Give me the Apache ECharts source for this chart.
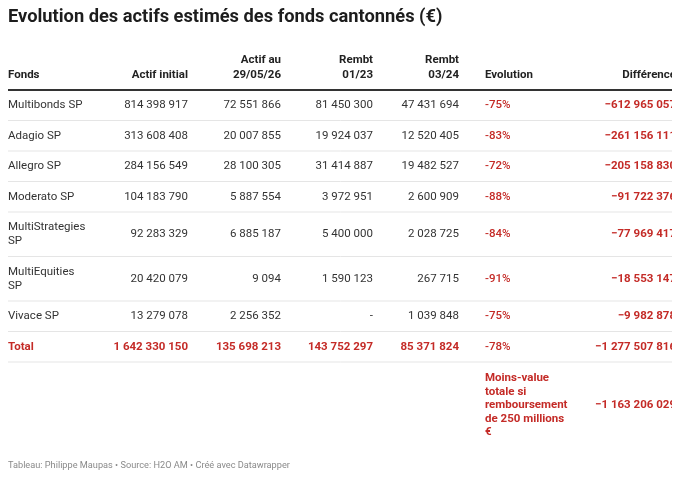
<!DOCTYPE html>
<html>
<head>
<meta charset="utf-8">
<script src="https://cdn.jsdelivr.net/npm/echarts@6/dist/echarts.min.js"></script>
<style>
  html, body { margin: 0; padding: 0; background: #fff; }
  #chart { width: 680px; height: 481px; }
</style>
</head>
<body>
<div id="chart"></div>
<script>
// données du tableau
const headers = ['Fonds', 'Actif initial', 'Actif au 29/05/26', 'Rembt 01/23', 'Rembt 03/24', 'Evolution', 'Différence']
const funds = ['Multibonds SP', 'Adagio SP', 'Allegro SP', 'Moderato SP', 'MultiStrategies SP', 'MultiEquities SP', 'Vivace SP']
const actifInitial = [814398917, 313608408, 284156549, 104183790, 92283329, 20420079, 13279078]
const actifAu = [72551866, 20007855, 28100305, 5887554, 6885187, 9094, 2256352]
const rembt0123 = [81450300, 19924037, 31414887, 3972951, 5400000, 1590123, null]
const rembt0324 = [47431694, 12520405, 19482527, 2600909, 2028725, 267715, 1039848]
const evolution = [-75, -83, -72, -88, -84, -91, -75]
const difference = [-612965057, -261156111, -205158830, -91722376, -77969417, -18553147, -9982878]
const totalRow = ['Total', 1642330150, 135698213, 143752297, 85371824, -78, -1277507816]
const noteLabel = 'Moins-value totale si remboursement de 250 millions €'
const noteValue = -1163206029

// mise en page
const colX = [8, 188, 281, 373, 459, 485, 676]
const colAlign = ['left', 'right', 'right', 'right', 'right', 'left', 'right']
const colWidth = [81, 100, 60, 50, 50, 86, 90]
const rowLines = [1, 1, 1, 1, 2, 2, 1, 1, 5]
const headerBottom = 90
const fontSize = 11.5
const dark = '#333333'
const red = '#c42b27'
const font = 'Roboto, "Noto Sans", sans-serif'

const fmt = n => {
  if (n === null || n === undefined) return '-'
  const s = Math.abs(n).toString().replace(/\B(?=(\d{3})+(?!\d))/g, ' ')
  return n < 0 ? '\u2212' + s : s
}
const pct = n => n + '%'

// retour à la ligne sur les espaces (libellés seulement)
const measureCtx = document.createElement('canvas').getContext('2d')
const wrap = (text, width, weight) => {
  measureCtx.font = weight + ' ' + fontSize + 'px ' + font
  const lines = []
  let cur = ''
  text.split(' ').forEach(w => {
    const test = cur ? cur + ' ' + w : w
    if (cur && measureCtx.measureText(test).width > width) {
      lines.push(cur)
      cur = w
    } else {
      cur = test
    }
  })
  lines.push(cur)
  return lines.join('\n')
}

// positions verticales des lignes
const rowTop = []
const rowMid = []
let y = headerBottom
rowLines.forEach(l => {
  const h = 16.5 + 14 * l
  rowTop.push(y)
  rowMid.push(y + h / 2)
  y += h
})

const cells = []
const addCell = (col, yy, text, opts) => {
  const c = Object.assign({
    value: [colX[col], yy],
    text: text,
    align: colAlign[col],
    color: dark,
    weight: 'normal',
    vAlign: 'middle',
    lineHeight: 14,
    wrap: false
  }, opts || {})
  if (c.wrap) c.text = wrap(c.text, colWidth[col], c.weight)
  cells.push(c)
}

headers.forEach((h, i) => addCell(i, 83, h, { weight: 'bold', vAlign: 'bottom', lineHeight: 15, color: '#222222', wrap: true }))

funds.forEach((f, i) => {
  const m = rowMid[i]
  addCell(0, m, f, { wrap: true })
  addCell(1, m, fmt(actifInitial[i]))
  addCell(2, m, fmt(actifAu[i]))
  addCell(3, m, fmt(rembt0123[i]))
  addCell(4, m, fmt(rembt0324[i]))
  addCell(5, m, pct(evolution[i]), { color: red, weight: '500' })
  addCell(6, m, fmt(difference[i]), { color: red, weight: 'bold' })
})

const tm = rowMid[funds.length]
addCell(0, tm, totalRow[0], { color: red, weight: 'bold' })
for (let c = 1; c <= 4; c++) addCell(c, tm, fmt(totalRow[c]), { color: red, weight: 'bold' })
addCell(5, tm, pct(totalRow[5]), { color: red, weight: '500' })
addCell(6, tm, fmt(totalRow[6]), { color: red, weight: 'bold' })

const nm = rowMid[funds.length + 1]
addCell(5, nm, noteLabel, { color: red, weight: 'bold', lineHeight: 13.5, wrap: true })
addCell(6, nm, fmt(noteValue), { color: red, weight: 'bold' })

// séparateurs : [y, épaisseur, couleur]
const rules = [[headerBottom, 2, '#333333']]
for (let i = 1; i < rowTop.length; i++) rules.push([rowTop[i], 1, '#e5e5e5'])

const myChart = echarts.init(document.getElementById('chart'), null, { renderer: 'canvas' })

myChart.setOption({
  animation: false,
  backgroundColor: '#ffffff',
  title: [
    {
      text: 'Evolution des actifs estimés des fonds cantonnés (€)',
      left: 8,
      top: 8,
      padding: 0,
      textStyle: { fontFamily: font, fontSize: 18.3, fontWeight: 'bold', color: '#1d1d1d' }
    },
    {
      text: 'Tableau: Philippe Maupas • Source: H2O AM • Créé avec Datawrapper',
      left: 8,
      top: 461,
      padding: 0,
      textStyle: { fontFamily: font, fontSize: 9.2, fontWeight: 'normal', color: '#8a8a8a' }
    }
  ],
  grid: { left: 0, right: 8, top: 0, bottom: 0 },
  xAxis: { type: 'value', min: 0, max: 672, show: false },
  yAxis: { type: 'value', min: 0, max: 481, inverse: true, show: false },
  series: [
    {
      type: 'custom',
      clip: true,
      silent: true,
      data: rules,
      renderItem: (params, api) => {
        const r = rules[params.dataIndex]
        const a = api.coord([8, r[0]])
        const b = api.coord([700, r[0]])
        return {
          type: 'line',
          shape: { x1: a[0], y1: a[1], x2: b[0], y2: b[1] },
          style: { stroke: r[2], lineWidth: r[1] }
        }
      }
    },
    {
      type: 'custom',
      clip: true,
      silent: true,
      data: cells.map(c => c.value),
      renderItem: (params, api) => {
        const c = cells[params.dataIndex]
        const p = api.coord(c.value)
        return {
          type: 'text',
          x: p[0],
          y: p[1],
          style: {
            text: c.text,
            fill: c.color,
            fontFamily: font,
            fontSize: fontSize,
            fontWeight: c.weight,
            align: c.align,
            verticalAlign: c.vAlign,
            lineHeight: c.lineHeight
          }
        }
      }
    }
  ]
})

window.addEventListener('resize', () => {
  myChart && myChart.resize()
})
</script>
</body>
</html>
